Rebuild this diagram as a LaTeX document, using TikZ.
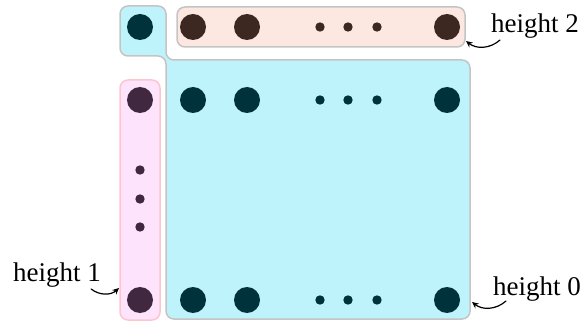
\documentclass[tikz,border=0pt]{standalone}
\usepackage{fontspec}
\setmainfont{Liberation Serif}
\usetikzlibrary{arrows.meta}
\definecolor{cyanfill}{RGB}{191,243,252}
\definecolor{peachfill}{RGB}{252,232,224}
\definecolor{pinkfill}{RGB}{253,228,252}
\definecolor{pinkline}{RGB}{255,196,204}
\definecolor{boxline}{RGB}{196,196,196}
\definecolor{tealdot}{RGB}{0,50,60}
\definecolor{browndot}{RGB}{60,40,32}
\definecolor{purpledot}{RGB}{63,40,64}
\begin{document}
\begin{tikzpicture}[x=1pt,y=-1pt,font=\fontsize{27}{32}\selectfont,line join=round,line cap=round,>={Stealth[length=6.5pt,width=6pt,inset=2pt]}]
	\useasboundingbox (0,0) rectangle (581,323);
	\tikzset{box/.style={line width=1.5pt,rounded corners=8pt},
		label/.style={inner sep=0pt,anchor=base west}}
	
	% height 0
	\draw[box,boxline,fill=cyanfill] (120,6) -- (166,6) -- (166,60) -- (470,60) -- (470,319) -- (166,319) -- (166,56) -- (120,56) -- cycle;
	% height 2
	\draw[box,boxline,fill=peachfill] (177,7) rectangle (465,47);
	% height 1
	\draw[box,pinkline,fill=pinkfill] (120,80) rectangle (160,320);
	
	\fill[tealdot] (140,27) circle[radius=13pt];
	\foreach \x in {193,247,447}
	\fill[browndot] (\x,27) circle[radius=13pt];
	\foreach \x in {320,348,377}
	\fill[browndot] (\x,27) circle[radius=4.7pt];
	
	\foreach \y in {100,300} {
		\fill[purpledot] (140,\y) circle[radius=13pt];
		\foreach \x in {193,247,447}
		\fill[tealdot] (\x,\y) circle[radius=13pt];
		\foreach \x in {320,348,377}
		\fill[tealdot] (\x,\y) circle[radius=4.7pt];
	}
	\foreach \y in {170,199,227}
	\fill[purpledot] (140,\y) circle[radius=4.7pt];
	
	\node[label] (h2) at (491,33) {height 2};
	\node[label] (h1) at (13,281) {height 1};
	\node[label] (h0) at (493,295) {height 0};
	\coordinate (t2) at (466,41);
	\coordinate (t1) at (119,288);
	\coordinate (t0) at (472,302);
	\draw[->,line width=1.2pt] ([xshift=9pt,yshift=-1pt]h2.south west) to[bend left=40] (t2);
	\draw[->,line width=1.2pt] ([xshift=-10pt,yshift=-2pt]h1.south east) to[bend right=40] (t1);
	\draw[->,line width=1.2pt] ([xshift=13pt]h0.south west) to[bend left=40] (t0);
\end{tikzpicture}
\end{document}
